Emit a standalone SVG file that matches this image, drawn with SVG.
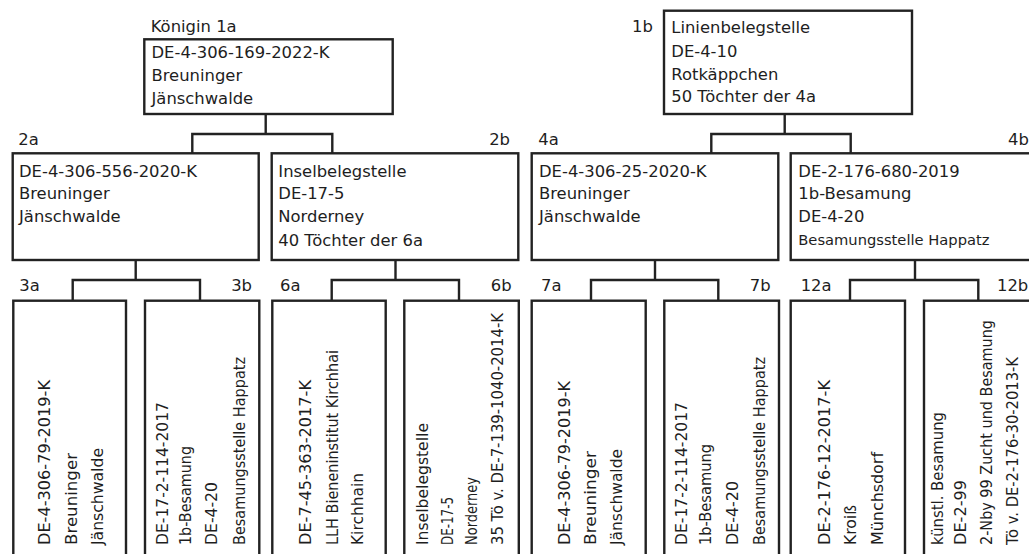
<svg xmlns="http://www.w3.org/2000/svg" width="1029" height="554" viewBox="0 0 1029 554">
<style>
.bx{fill:#fff;stroke:#222;stroke-width:2.4}
.cn{fill:none;stroke:#222;stroke-width:2.4}
text{font-family:"DejaVu Sans",sans-serif;font-size:16.4px;fill:#1e1e1e}
.lb{font-size:16.4px}
.end{text-anchor:end}
.v{font-size:15.5px}
</style>
<rect width="1029" height="554" fill="#fff"/>
<g id="connectors">
<path class="cn" d="M265.7,114V134M192.3,153.3V134H332.3V153.3"/>
<path class="cn" d="M784.7,114V134M711.3,153.3V134H850.7V153.3"/>
<path class="cn" d="M135.7,260V280M72.7,300.7V280H200V300.7"/>
<path class="cn" d="M395.5,260V280M331.7,300.7V280H459V300.7"/>
<path class="cn" d="M655,260V280M591,300.7V280H718.3V300.7"/>
<path class="cn" d="M915,260V280M850,300.7V280H978.3V300.7"/>
</g>
<g id="n1a">
<text class="lb" x="150.7" y="32.3">Königin 1a</text>
<rect class="bx" x="144.3" y="39.3" width="248.4" height="74.7"/>
<text x="151.5" y="58.3">DE-4-306-169-2022-K</text>
<text x="151.5" y="81">Breuninger</text>
<text x="151.5" y="104">Jänschwalde</text>
</g>
<g id="n1b">
<text class="lb" x="632" y="32.3">1b</text>
<rect class="bx" x="664" y="10.7" width="248" height="103.3"/>
<text x="671.3" y="32.5">Linienbelegstelle</text>
<text x="671.3" y="57">DE-4-10</text>
<text x="671.3" y="79.5">Rotkäppchen</text>
<text x="671.3" y="102">50 Töchter der 4a</text>
</g>
<g id="n2a">
<text class="lb" x="18.3" y="145">2a</text>
<rect class="bx" x="12.7" y="153.3" width="246" height="106.7"/>
<text x="19" y="176.7">DE-4-306-556-2020-K</text>
<text x="19" y="199.3">Breuninger</text>
<text x="19" y="221.7">Jänschwalde</text>
</g>
<g id="n2b">
<text class="lb end" x="510" y="145">2b</text>
<rect class="bx" x="271.7" y="153.3" width="246.6" height="106.7"/>
<text x="278.3" y="176.7">Inselbelegstelle</text>
<text x="278.3" y="199.3">DE-17-5</text>
<text x="278.3" y="221.7">Norderney</text>
<text x="278.3" y="245.5">40 Töchter der 6a</text>
</g>
<g id="n4a">
<text class="lb" x="538.3" y="145">4a</text>
<rect class="bx" x="531.7" y="153.3" width="246.6" height="106.7"/>
<text x="539" y="176.7">DE-4-306-25-2020-K</text>
<text x="539" y="199.3">Breuninger</text>
<text x="539" y="221.7">Jänschwalde</text>
</g>
<g id="n4b">
<text class="lb" x="1008" y="145">4b</text>
<rect class="bx" x="790.7" y="153.3" width="246.6" height="106.7"/>
<text x="798.3" y="176.7">DE-2-176-680-2019</text>
<text x="798.3" y="199.3">1b-Besamung</text>
<text x="798.3" y="221.7">DE-4-20</text>
<text x="798.3" y="245" style="font-size:14.7px">Besamungsstelle Happatz</text>
</g>
<g id="n3a">
<text class="lb" x="19.3" y="291">3a</text>
<rect class="bx" x="13.3" y="300.7" width="112.7" height="270"/>
<text class="v" transform="translate(50,545) rotate(-90)" textLength="165" lengthAdjust="spacingAndGlyphs">DE-4-306-79-2019-K</text>
<text class="v" transform="translate(76.5,545) rotate(-90)" textLength="92" lengthAdjust="spacingAndGlyphs">Breuninger</text>
<text class="v" transform="translate(103,545) rotate(-90)" textLength="97" lengthAdjust="spacingAndGlyphs">Jänschwalde</text>
</g>
<g id="n3b">
<text class="lb end" x="252" y="291">3b</text>
<rect class="bx" x="145" y="300.7" width="114.3" height="270"/>
<text class="v" transform="translate(168,545) rotate(-90)" textLength="143" lengthAdjust="spacingAndGlyphs">DE-17-2-114-2017</text>
<text class="v" transform="translate(191,545) rotate(-90)" textLength="99" lengthAdjust="spacingAndGlyphs">1b-Besamung</text>
<text class="v" transform="translate(217,545) rotate(-90)" textLength="63" lengthAdjust="spacingAndGlyphs">DE-4-20</text>
<text class="v" transform="translate(245,545) rotate(-90)" textLength="188" lengthAdjust="spacingAndGlyphs">Besamungsstelle Happatz</text>
</g>
<g id="n6a">
<text class="lb" x="280" y="291">6a</text>
<rect class="bx" x="272.3" y="300.7" width="113.4" height="270"/>
<text class="v" transform="translate(311,545) rotate(-90)" textLength="165" lengthAdjust="spacingAndGlyphs">DE-7-45-363-2017-K</text>
<text class="v" transform="translate(338,545) rotate(-90)" textLength="195" lengthAdjust="spacingAndGlyphs">LLH Bieneninstitut Kirchhai</text>
<text class="v" transform="translate(363,545) rotate(-90)" textLength="72" lengthAdjust="spacingAndGlyphs">Kirchhain</text>
</g>
<g id="n6b">
<text class="lb end" x="511.7" y="291">6b</text>
<rect class="bx" x="404.3" y="300.7" width="114.5" height="270"/>
<text class="v" transform="translate(428,545) rotate(-90)" textLength="122" lengthAdjust="spacingAndGlyphs">Inselbelegstelle</text>
<text class="v" transform="translate(453,545) rotate(-90)" textLength="48" lengthAdjust="spacingAndGlyphs">DE-17-5</text>
<text class="v" transform="translate(477,545) rotate(-90)" textLength="68" lengthAdjust="spacingAndGlyphs">Norderney</text>
<text class="v" transform="translate(503,545) rotate(-90)" textLength="232" lengthAdjust="spacingAndGlyphs">35 Tö v. DE-7-139-1040-2014-K</text>
</g>
<g id="n7a">
<text class="lb" x="541" y="291">7a</text>
<rect class="bx" x="531.7" y="300.7" width="114" height="270"/>
<text class="v" transform="translate(570,545) rotate(-90)" textLength="164" lengthAdjust="spacingAndGlyphs">DE-4-306-79-2019-K</text>
<text class="v" transform="translate(595.5,545) rotate(-90)" textLength="94" lengthAdjust="spacingAndGlyphs">Breuninger</text>
<text class="v" transform="translate(622,545) rotate(-90)" textLength="96" lengthAdjust="spacingAndGlyphs">Jänschwalde</text>
</g>
<g id="n7b">
<text class="lb end" x="770.7" y="291">7b</text>
<rect class="bx" x="664.3" y="300.7" width="114.7" height="270"/>
<text class="v" transform="translate(687,545) rotate(-90)" textLength="143" lengthAdjust="spacingAndGlyphs">DE-17-2-114-2017</text>
<text class="v" transform="translate(710.5,545) rotate(-90)" textLength="101" lengthAdjust="spacingAndGlyphs">1b-Besamung</text>
<text class="v" transform="translate(738,545) rotate(-90)" textLength="64" lengthAdjust="spacingAndGlyphs">DE-4-20</text>
<text class="v" transform="translate(765,545) rotate(-90)" textLength="188" lengthAdjust="spacingAndGlyphs">Besamungsstelle Happatz</text>
</g>
<g id="n12a">
<text class="lb" x="800.7" y="291">12a</text>
<rect class="bx" x="790.7" y="300.7" width="114.3" height="270"/>
<text class="v" transform="translate(830,545) rotate(-90)" textLength="165" lengthAdjust="spacingAndGlyphs">DE-2-176-12-2017-K</text>
<text class="v" transform="translate(856,545) rotate(-90)" textLength="40" lengthAdjust="spacingAndGlyphs">Kroiß</text>
<text class="v" transform="translate(883,545) rotate(-90)" textLength="93" lengthAdjust="spacingAndGlyphs">Münchsdorf</text>
</g>
<g id="n12b">
<text class="lb" x="997" y="291">12b</text>
<rect class="bx" x="924" y="300.7" width="114" height="270"/>
<text class="v" transform="translate(943,545) rotate(-90)" textLength="133" lengthAdjust="spacingAndGlyphs">künstl. Besamung</text>
<text class="v" transform="translate(966,545) rotate(-90)" textLength="65" lengthAdjust="spacingAndGlyphs">DE-2-99</text>
<text class="v" transform="translate(992,545) rotate(-90)" textLength="225" lengthAdjust="spacingAndGlyphs">2-Nby 99 Zucht und Besamung</text>
<text class="v" transform="translate(1018,545) rotate(-90)" textLength="188" lengthAdjust="spacingAndGlyphs">Tö v. DE-2-176-30-2013-K</text>
</g>
</svg>
